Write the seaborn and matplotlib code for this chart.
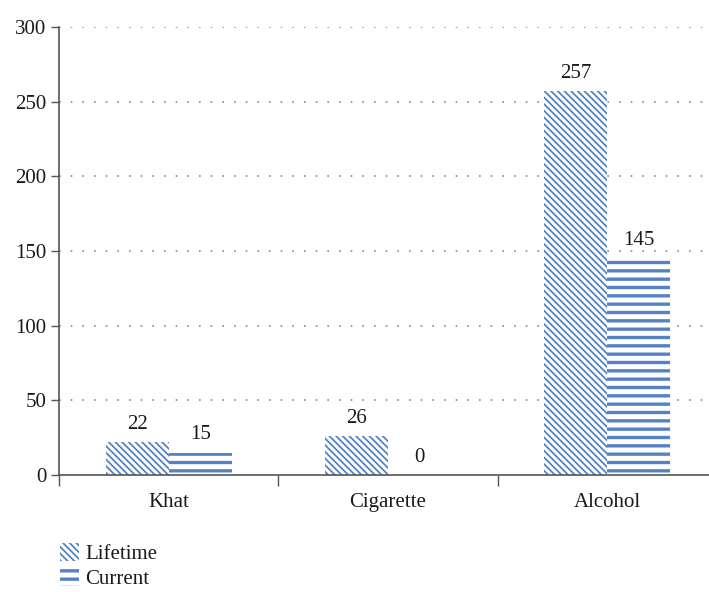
import matplotlib
matplotlib.use("Agg")
import matplotlib.pyplot as plt
import seaborn as sns
import pandas as pd
from matplotlib.patches import Patch
from matplotlib.ticker import FixedLocator

substances = ["Khat", "Cigarette", "Alcohol"]
lifetime = [22, 26, 257]
current = [15, 0, 145]
series_names = ["Lifetime", "Current"]

df = pd.DataFrame({
    "substance": substances * 2,
    "count": lifetime + current,
    "use": [series_names[0]] * 3 + [series_names[1]] * 3,
})

sns.set_theme(style="white")
plt.rcParams["font.family"] = ["Liberation Serif", "DejaVu Serif"]
plt.rcParams["hatch.linewidth"] = 1.3

FS = 15
blue = "#5582c2"
hatches = {"Lifetime": "\\" * 5, "Current": "--"}
hatch_lw = {"Lifetime": 1.3, "Current": 2.4}


def style_bar(bar, name):
    bar.set_facecolor("white")
    bar.set_edgecolor(blue)
    bar.set_linewidth(0)
    bar.set_hatch(hatches[name])
    if hasattr(bar, "set_hatch_linewidth"):
        bar.set_hatch_linewidth(hatch_lw[name])
    else:
        bar._hatch_linewidth = hatch_lw[name]


fig = plt.figure(figsize=(7.09, 5.92), dpi=100)
ax = fig.add_axes([59 / 709, 1 - 475 / 592, (717 - 59) / 709, 448 / 592])

sns.barplot(data=df, x="substance", y="count", hue="use", order=substances,
            hue_order=series_names, palette=["white", "white"], width=0.574,
            gap=0, legend=False, ax=ax, linewidth=0)

for cont, name in zip(ax.containers, series_names):
    for bar in cont:
        style_bar(bar, name)
    ax.bar_label(cont, labels=[str(int(v)) for v in cont.datavalues],
                 padding=6, fontsize=FS, color="#1a1a1a")

ax.set_ylim(0, 300)
ax.set_xlim(-0.5, 2.5)
ax.set_yticks([0, 50, 100, 150, 200, 250, 300])
ax.set_xticks([0, 1, 2])
ax.set_xticklabels(substances)
ax.xaxis.set_minor_locator(FixedLocator([-0.5, 0.5, 1.5, 2.5]))
ax.tick_params(axis="x", which="major", length=0, pad=13, labelsize=FS, colors="#1a1a1a")
ax.tick_params(axis="x", which="minor", length=8, width=1, color="#555555", direction="out", bottom=True)
ax.tick_params(axis="y", length=6, width=1, color="#555555", direction="out", left=True,
               labelsize=FS, labelcolor="#1a1a1a", pad=3)
ax.set_xlabel("")
ax.set_ylabel("")

for y in [50, 100, 150, 200, 250, 300]:
    ax.axhline(y, color="#888888", linewidth=1.2, linestyle=(0, (1, 6)), zorder=0)

for side in ["top", "right"]:
    ax.spines[side].set_visible(False)
for side in ["left", "bottom"]:
    ax.spines[side].set_color("#555555")
    ax.spines[side].set_linewidth(1.2)

handles = []
for name in series_names:
    h = Patch(facecolor="white", edgecolor=blue, linewidth=0, hatch=hatches[name])
    handles.append(h)
leg = fig.legend(handles, series_names, loc="upper left", bbox_to_anchor=(52 / 709, 1 - 535 / 592),
                 frameon=False, fontsize=FS, handlelength=0.9, handleheight=0.9,
                 handletextpad=0.3, labelspacing=0.2, borderaxespad=0)
for t in leg.get_texts():
    t.set_color("#1a1a1a")
for h, name in zip(leg.legend_handles, series_names):
    style_bar(h, name)

fig.savefig("out.png", dpi=100)
